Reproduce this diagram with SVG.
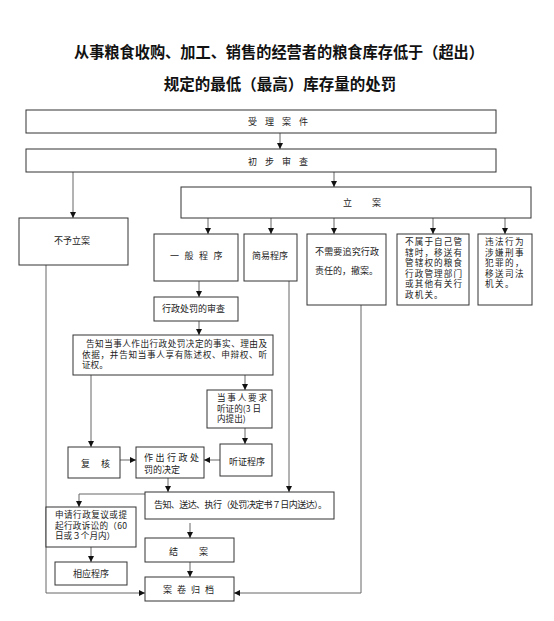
<svg xmlns="http://www.w3.org/2000/svg" width="554" height="621" viewBox="0 0 554 621">
<style>
.bg{fill:#fff}
.box{fill:#fff;stroke:#333;stroke-width:1}
.ln{fill:none;stroke:#666;stroke-width:1}
.t{font-family:"Noto Sans CJK SC","Liberation Sans",sans-serif;font-size:9px;fill:#222}
.s{font-size:8.6px}
.title{font-family:"Noto Sans CJK SC","Liberation Sans",sans-serif;font-size:15.5px;font-weight:bold;fill:#111}
</style>
<defs>
<marker id="ah" markerUnits="userSpaceOnUse" markerWidth="6" markerHeight="6" refX="6" refY="3" orient="auto">
<path d="M0,0 L6,3 L0,6 z" fill="#111"/>
</marker>
</defs>
<rect class="bg" x="0" y="0" width="554" height="621"/>
<g id="title">
<text class="title" x="279" y="58" text-anchor="middle" textLength="410" lengthAdjust="spacingAndGlyphs">从事粮食收购、加工、销售的经营者的粮食库存低于（超出）</text>
<text class="title" x="280" y="90" text-anchor="middle">规定的最低（最高）库存量的处罚</text>
</g>
<g id="connectors">
<path class="ln" d="M280,133 V149" marker-end="url(#ah)"/>
<path class="ln" d="M73,172 V218" marker-end="url(#ah)"/>
<path class="ln" d="M334,172 V187" marker-end="url(#ah)"/>
<path class="ln" d="M208,218 V234" marker-end="url(#ah)"/>
<path class="ln" d="M271,218 V234" marker-end="url(#ah)"/>
<path class="ln" d="M334,218 V234" marker-end="url(#ah)"/>
<path class="ln" d="M433,218 V234" marker-end="url(#ah)"/>
<path class="ln" d="M505,218 V234" marker-end="url(#ah)"/>
<path class="ln" d="M199,281 V297" marker-end="url(#ah)"/>
<path class="ln" d="M199,321 V335" marker-end="url(#ah)"/>
<path class="ln" d="M91,375 V447" marker-end="url(#ah)"/>
<path class="ln" d="M245,375 V390" marker-end="url(#ah)"/>
<path class="ln" d="M245,428 V444" marker-end="url(#ah)"/>
<path class="ln" d="M120,460 H136" marker-end="url(#ah)"/>
<path class="ln" d="M220,460 H204" marker-end="url(#ah)"/>
<path class="ln" d="M168,478 V492" marker-end="url(#ah)"/>
<path class="ln" d="M289,281 V492" marker-end="url(#ah)"/>
<path class="ln" d="M361,305 V593 H234" marker-end="url(#ah)"/>
<path class="ln" d="M46,265 V593 H145" marker-end="url(#ah)"/>
<path class="ln" d="M145,494 H79 V507" marker-end="url(#ah)"/>
<path class="ln" d="M91,547 V562" marker-end="url(#ah)"/>
<path class="ln" d="M190,523 V538" marker-end="url(#ah)"/>
<path class="ln" d="M190,562 V577" marker-end="url(#ah)"/>
</g>
<g id="n-shouli"><rect class="box" x="26" y="110" width="470" height="23"/><text class="t" x="248" y="125" letter-spacing="8">受理案件</text></g>
<g id="n-chubu"><rect class="box" x="26" y="149" width="470" height="23"/><text class="t" x="248" y="165" letter-spacing="8">初步审查</text></g>
<g id="n-lian"><rect class="box" x="181" y="187" width="350" height="31"/><text class="t" x="343" y="206">立</text><text class="t" x="372" y="206">案</text></g>
<g id="n-buyu"><rect class="box" x="19" y="218" width="109" height="47"/><text class="t" x="54" y="244">不予立案</text></g>
<g id="n-yiban"><rect class="box" x="154" y="234" width="84" height="47"/><text class="t" x="170" y="259" letter-spacing="5.5">一般程序</text></g>
<g id="n-jianyi"><rect class="box" x="244" y="234" width="53" height="47"/><text class="t" x="252" y="259">简易程序</text></g>
<g id="n-chean"><rect class="box" x="307" y="234" width="79" height="71"/><text class="t" x="315" y="255" textLength="64">不需要追究行政</text><text class="t" x="315" y="274">责任的，撤案。</text></g>
<g id="n-yisong"><rect class="box" x="397" y="234" width="72" height="71"/>
<text class="t s" x="405" y="245" letter-spacing="1.1">不属于自己管</text>
<text class="t s" x="405" y="255.5" letter-spacing="1.1">辖时，移送有</text>
<text class="t s" x="405" y="266" letter-spacing="1.1">管辖权的粮食</text>
<text class="t s" x="405" y="276.5" letter-spacing="1.1">行政管理部门</text>
<text class="t s" x="405" y="287" letter-spacing="1.1">或其他有关行</text>
<text class="t s" x="405" y="297.5" letter-spacing="1.1">政机关。</text></g>
<g id="n-sifa"><rect class="box" x="478" y="234" width="54" height="71"/>
<text class="t s" x="485" y="245" letter-spacing="1.4">违法行为</text>
<text class="t s" x="485" y="255.5" letter-spacing="1.4">涉嫌刑事</text>
<text class="t s" x="485" y="266" letter-spacing="1.4">犯罪的，</text>
<text class="t s" x="485" y="276.5" letter-spacing="1.4">移送司法</text>
<text class="t s" x="485" y="287" letter-spacing="1.4">机关。</text></g>
<g id="n-shencha"><rect class="box" x="154" y="297" width="84" height="24"/><text class="t" x="162" y="312">行政处罚的审查</text></g>
<g id="n-gaozhi"><rect class="box" x="73" y="335" width="200" height="40"/>
<text class="t s" x="86" y="347" textLength="181">告知当事人作出行政处罚决定的事实、理由及</text>
<text class="t s" x="82" y="357.5" textLength="185">依据，并告知当事人享有陈述权、申辩权、听</text>
<text class="t s" x="82" y="368">证权。</text></g>
<g id="n-yaoqiu"><rect class="box" x="207" y="390" width="65" height="38"/>
<text class="t s" x="217" y="401" textLength="50">当事人要求</text>
<text class="t s" x="217" y="411.5">听证的(3 日</text>
<text class="t s" x="217" y="422">内提出)</text></g>
<g id="n-tingzheng"><rect class="box" x="220" y="444" width="52" height="32"/><text class="t" x="229" y="465">听证程序</text></g>
<g id="n-fuhe"><rect class="box" x="68" y="447" width="52" height="31"/><text class="t" x="81" y="467">复</text><text class="t" x="101" y="467">核</text></g>
<g id="n-zuochu"><rect class="box" x="136" y="447" width="68" height="31"/>
<text class="t" x="144" y="461" letter-spacing="2.5">作出行政处</text>
<text class="t" x="144" y="473">罚的决定</text></g>
<g id="n-songda"><rect class="box" x="145" y="492" width="189" height="27"/><text class="t" x="154" y="508" textLength="173">告知、送达、执行（处罚决定书７日内送达）。</text></g>
<g id="n-shenqing"><rect class="box" x="46" y="507" width="90" height="40"/>
<text class="t s" x="55" y="518" textLength="72">申请行政复议或提</text>
<text class="t s" x="55" y="528.5" textLength="72">起行政诉讼的（60</text>
<text class="t s" x="55" y="539">日或３个月内）</text></g>
<g id="n-xiangying"><rect class="box" x="55" y="562" width="72" height="23"/><text class="t" x="73" y="577">相应程序</text></g>
<g id="n-jiean"><rect class="box" x="145" y="538" width="89" height="24"/><text class="t" x="169" y="555">结</text><text class="t" x="199" y="555">案</text></g>
<g id="n-guidang"><rect class="box" x="145" y="577" width="89" height="24"/><text class="t" x="163" y="593" letter-spacing="5">案卷归档</text></g>
</svg>
